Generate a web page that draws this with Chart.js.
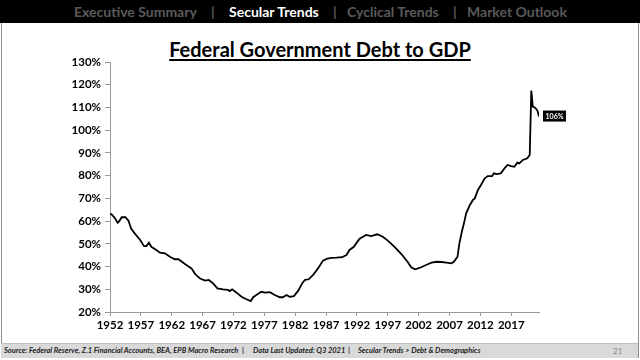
<!DOCTYPE html>
<html>
<head>
<meta charset="utf-8">
<script src="https://cdn.jsdelivr.net/npm/chart.js@4"></script>
<style>
  html, body { margin: 0; padding: 0; background: #fff; }
  #page { position: relative; width: 640px; height: 360px; overflow: hidden; font-family: Lato, "Open Sans", sans-serif; }
  #nav { position: absolute; left: 0; top: 0; width: 640px; height: 23px; background: #000; }
  #nav span { position: absolute; top: 3px; font-size: 14px; font-weight: bold; color: #5a5a5a; white-space: nowrap; }
  #nav span.on { color: #fff; }
  #panel { position: absolute; left: 1px; top: 23px; width: 636px; height: 334px; border: 1px solid #8c8c8c; border-top: none; }
  #title { position: absolute; left: 0; top: 37px; width: 640px; text-align: center; font-size: 20px; font-weight: bold; color: #000; text-decoration: underline; text-underline-offset: 2px; }
  #foot { position: absolute; left: 1px; top: 343px; width: 637px; height: 14px; background: #d9d9d9; border-top: 1px solid #bfbfbf; }
  #foot span { position: absolute; top: 2px; font-size: 7.5px; font-weight: bold; font-style: italic; color: #222; white-space: nowrap; }
  #foot span.pg { font-weight: normal; font-style: normal; color: #8c8c8c; font-size: 8px; }
  #chart { position: absolute; left: 0; top: 0; }
</style>
</head>
<body>
<div id="page">
  <div id="nav">
    <span style="left:74px">Executive Summary</span>
    <span style="left:211px">|</span>
    <span class="on" style="left:229px">Secular Trends</span>
    <span style="left:333px">|</span>
    <span style="left:347px">Cyclical Trends</span>
    <span style="left:453px">|</span>
    <span style="left:467px">Market Outlook</span>
  </div>
  <div id="panel"></div>
  <div id="title">Federal Government Debt to GDP</div>
  <canvas id="chart" width="640" height="360"></canvas>
  <div id="foot">
    <span style="left:3px">Source: Federal Reserve, Z.1 Financial Accounts, BEA, EPB Macro Research</span>
    <span style="left:241px">|</span>
    <span style="left:252px">Data Last Updated: Q3 2021</span>
    <span style="left:347px">|</span>
    <span style="left:357px">Secular Trends &gt; Debt &amp; Demographics</span>
    <span class="pg" style="left:612px">21</span>
  </div>
</div>
<script>
// dados (ano fracionado, % do PIB)
const anos = [
  1952.0, 1952.25, 1952.75, 1953.25, 1953.5, 1953.9, 1954.5, 1955.0, 1955.4, 1956.0,
  1956.9, 1957.5, 1957.9, 1958.3, 1958.7, 1959.5, 1960.1, 1960.9, 1961.7, 1962.5,
  1963.1, 1963.7, 1964.6, 1965.2, 1965.8, 1966.6, 1967.4, 1968.0, 1968.7, 1969.4,
  1970.3, 1971.1, 1971.4, 1971.8, 1972.5, 1973.3, 1974.1, 1974.8, 1975.2, 1975.7,
  1976.5, 1977.1, 1977.9, 1978.7, 1979.5, 1980.0, 1980.6, 1981.1, 1981.8, 1982.5,
  1983.2, 1983.6, 1984.2, 1984.9, 1985.7, 1986.5, 1987.2, 1987.9, 1988.7, 1989.6,
  1990.3, 1990.8, 1991.5, 1992.2, 1992.5, 1993.5, 1994.3, 1995.3, 1996.2, 1997.0,
  1998.1, 1999.2, 2000.2, 2000.8, 2001.4, 2001.9, 2002.4, 2003.2, 2004.1, 2004.9,
  2005.7, 2006.5, 2007.3, 2007.7, 2008.3, 2008.6, 2009.0, 2009.4, 2009.7, 2010.3,
  2010.8, 2011.1, 2011.6, 2012.1, 2012.7, 2013.2, 2013.9, 2014.2, 2014.6, 2015.3,
  2015.9, 2016.4, 2017.0, 2017.5, 2018.0, 2018.3, 2018.9, 2019.2, 2019.6, 2020.0,
  2020.25, 2020.5, 2020.75, 2021.0, 2021.25, 2021.5
];
const divida = [
  63.2, 63.0, 61.5, 59.3, 60.0, 61.7, 61.7, 60.2, 56.8, 54.6,
  51.7, 49.0, 49.0, 50.5, 48.7, 47.3, 46.1, 45.8, 44.3, 43.2,
  43.2, 42.0, 40.2, 39.2, 36.7, 34.7, 33.8, 34.1, 32.6, 30.4,
  30.0, 29.7, 29.2, 30.0, 28.5, 26.7, 25.6, 24.8, 26.5, 27.5,
  28.9, 28.5, 28.7, 27.5, 26.5, 26.5, 27.5, 26.7, 27.0, 29.4,
  32.9, 34.1, 34.4, 36.3, 39.2, 42.6, 43.5, 43.8, 43.9, 44.1,
  45.1, 47.3, 48.7, 51.4, 52.4, 53.9, 53.4, 54.2, 53.1, 51.4,
  48.7, 45.5, 42.1, 39.7, 38.8, 39.2, 39.7, 40.7, 41.7, 42.1,
  42.0, 41.7, 41.4, 42.1, 44.3, 50.2, 55.3, 59.7, 63.4, 67.1,
  69.3, 70.0, 73.7, 75.9, 78.8, 79.8, 79.8, 81.0, 80.7, 81.0,
  83.2, 84.7, 84.2, 83.9, 85.7, 85.4, 86.9, 87.2, 87.6, 89.1,
  117.4, 110.3, 110.1, 109.5, 108.5, 106.0
];
const anosEixo = [1952, 1957, 1962, 1967, 1972, 1977, 1982, 1987, 1992, 1997, 2002, 2007, 2012, 2017];
const pctEixo = [20, 30, 40, 50, 60, 70, 80, 90, 100, 110, 120, 130];

// ===== etiqueta do último valor =====
const etiquetaFinal = {
  id: 'etiquetaFinal',
  afterDatasetsDraw(chart) {
    const meta = chart.getDatasetMeta(0);
    const p = meta.data[meta.data.length - 1];
    const ctx = chart.ctx;
    const txt = Math.round(divida[divida.length - 1]) + '%';
    ctx.save();
    ctx.fillStyle = '#000';
    ctx.fillRect(p.x + 4, p.y - 6, 23, 11);
    ctx.fillStyle = '#fff';
    ctx.font = 'bold 7px Lato, sans-serif';
    ctx.textAlign = 'center';
    ctx.textBaseline = 'middle';
    ctx.fillText(txt, p.x + 15.5, p.y);
    ctx.restore();
  }
};

const fonteEixo = { family: 'Lato, sans-serif', size: 11.5, weight: 'bold' };

new Chart(document.getElementById('chart'), {
  type: 'line',
  data: {
    datasets: [{
      data: anos.map((a, i) => ({ x: a, y: divida[i] })),
      borderColor: '#000',
      borderWidth: 1.8,
      pointRadius: 0,
      tension: 0
    }]
  },
  options: {
    responsive: false,
    animation: false,
    layout: { padding: { left: 0, right: 101, top: 62, bottom: 18 } },
    plugins: { legend: { display: false }, tooltip: { enabled: false } },
    scales: {
      x: {
        type: 'linear',
        min: 1952,
        max: 2021.5,
        afterBuildTicks: axis => { axis.ticks = anosEixo.map(v => ({ value: v })); },
        afterFit: axis => { axis.height = 30; },
        ticks: { color: '#000', font: fonteEixo, maxRotation: 0, autoSkip: false, padding: 2, callback: v => String(v) },
        grid: { drawOnChartArea: false, tickLength: 4, color: '#999' },
        border: { color: '#999' }
      },
      y: {
        min: 20,
        max: 130,
        afterBuildTicks: axis => { axis.ticks = pctEixo.map(v => ({ value: v })); },
        afterFit: axis => { axis.width = 110; },
        ticks: { color: '#000', font: fonteEixo, padding: 4, callback: v => v + '%' },
        grid: { drawOnChartArea: false, tickLength: 5, color: '#999' },
        border: { color: '#999' }
      }
    }
  },
  plugins: [etiquetaFinal]
});
</script>
</body>
</html>
